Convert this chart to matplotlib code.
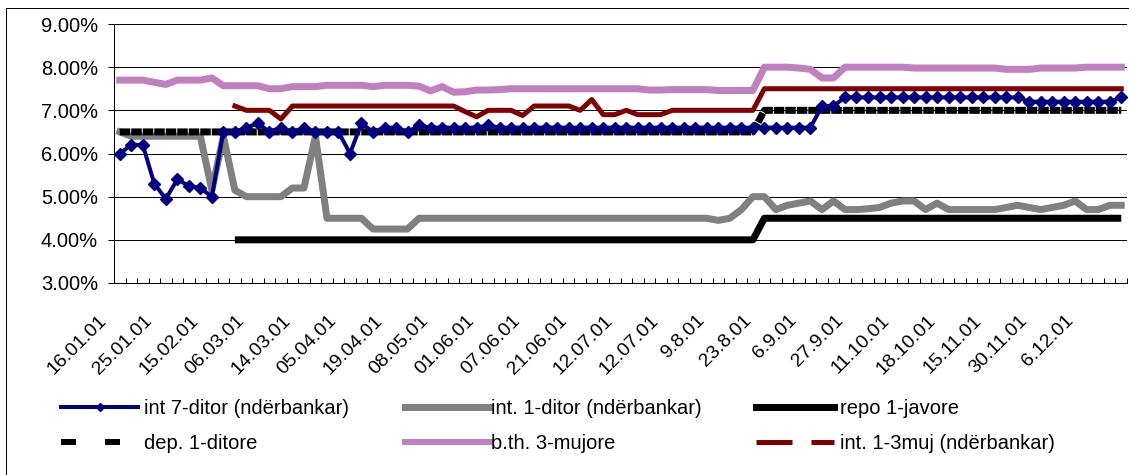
import numpy as np
import matplotlib
matplotlib.use('Agg')
import matplotlib.pyplot as plt
from matplotlib.lines import Line2D
from matplotlib.patches import Rectangle
import matplotlib.transforms as mtransforms

plt.rcParams['font.family'] = ['Liberation Sans', 'DejaVu Sans']
plt.rcParams['lines.scale_dashes'] = False

W, H = 1129, 475
PX = 72.0 / 100  # points per pixel at dpi 100
FS = 14.5

tick_labels = ['16.01.01', '25.01.01', '15.02.01', '06.03.01', '14.03.01', '05.04.01',
               '19.04.01', '08.05.01', '01.06.01', '07.06.01', '21.06.01', '12.07.01',
               '12.07.01', '9.8.01', '23.8.01', '6.9.01', '27.9.01', '11.10.01',
               '18.10.01', '15.11.01', '30.11.01', '6.12.01']
n = 88

int7 = ([6.00, 6.20, 6.20, 5.30, 4.95, 5.40, 5.25, 5.20, 5.00, 6.50,
         6.50, 6.60, 6.70, 6.50, 6.60, 6.50, 6.60, 6.50, 6.50, 6.50,
         6.00, 6.70, 6.50, 6.60, 6.60, 6.50, 6.65, 6.60, 6.60, 6.60,
         6.60, 6.60, 6.65] + [6.60] * 28 + [7.10, 7.10] + [7.30] * 16
        + [7.20] * 8 + [7.30])

int1 = ([6.50, 6.40, 6.40, 6.40, 6.40, 6.40, 6.40, 6.40, 5.15, 6.40,
         5.15, 5.00, 5.00, 5.00, 5.00, 5.20, 5.20, 6.40, 4.50, 4.50,
         4.50, 4.50, 4.25, 4.25, 4.25, 4.25] + [4.50] * 26
        + [4.45, 4.50, 4.70, 5.00, 5.00, 4.70, 4.80, 4.85, 4.90, 4.70,
           4.90, 4.70, 4.70, 4.72, 4.75, 4.85, 4.90, 4.90, 4.70, 4.85,
           4.70, 4.70, 4.70, 4.70, 4.70, 4.75, 4.80, 4.75, 4.70, 4.75,
           4.80, 4.90, 4.70, 4.70, 4.80, 4.80])

repo = [np.nan] * 10 + [4.00] * 46 + [4.50] * 32

dep = [6.50] * 56 + [7.00] * 32

bth = ([7.70, 7.70, 7.70, 7.65, 7.60, 7.70, 7.70, 7.70, 7.75, 7.57,
        7.57, 7.57, 7.57, 7.50, 7.50, 7.55, 7.55, 7.55, 7.58, 7.58,
        7.58, 7.58, 7.55, 7.58, 7.58, 7.58, 7.56, 7.45, 7.55, 7.42,
        7.43, 7.47, 7.47, 7.48] + [7.50] * 12
       + [7.47, 7.47, 7.48, 7.48, 7.48, 7.48, 7.46, 7.46, 7.46, 7.46]
       + [8.00, 8.00, 8.00, 7.98, 7.95, 7.75, 7.75, 8.00, 8.00, 8.00,
          8.00, 8.00, 8.00, 7.98, 7.98, 7.98, 7.98, 7.98, 7.98, 7.98,
          7.98, 7.95, 7.95, 7.95, 7.98, 7.98, 7.98, 7.98, 8.00, 8.00,
          8.00, 8.00])

int13 = ([np.nan] * 10
         + [7.10, 7.00, 7.00, 7.00, 6.80] + [7.10] * 15
         + [6.97, 6.85, 7.00, 7.00, 7.00, 6.88, 7.10, 7.10, 7.10, 7.10,
            7.00, 7.25, 6.90, 6.90, 7.00, 6.90, 6.90, 6.90]
         + [7.00] * 8 + [7.50] * 32)

x = np.arange(n)

fig = plt.figure(figsize=(W / 100, H / 100), dpi=100)
# chart border: only the left and top edges fall inside the image
fig.patches.append(Rectangle((6 / W, -0.1), 2, 1 - 8 / H + 0.1, transform=fig.transFigure,
                             fill=False, edgecolor='black', lw=1.0 * PX))

ax = fig.add_axes([114 / W, 1 - 283 / H, (1127 - 114) / W, (283 - 24) / H])

ax.plot(x, int1, color='#808080', lw=7 * PX, zorder=2)
ax.plot(x, repo, color='black', lw=7 * PX, solid_capstyle='butt', zorder=3)
ax.plot(x, dep, color='black', lw=7 * PX, dashes=(10.5 * PX, 1.0 * PX),
        dash_capstyle='butt', zorder=3)
ax.plot(x, bth, color='#c080c0', lw=7 * PX, zorder=3)
ax.plot(x, int13, color='#800000', lw=5 * PX, zorder=3)
ax.plot(x, int7, color='#000080', lw=4 * PX, marker='D', ms=6, mec='#000080',
        mfc='#000080', zorder=5)

ax.set_xlim(-0.5, n - 0.5)
ax.set_ylim(3, 9)
yt = np.arange(3, 10)
ax.set_yticks(yt)
ax.set_yticklabels(['%.2f%%' % v for v in yt], fontsize=FS)
ax.yaxis.grid(True, color='black', lw=1.0 * PX)
ax.set_axisbelow(True)
ax.tick_params(axis='y', direction='out', length=6 * PX, width=1 * PX, pad=10 * PX)

ax.set_xticks(x[::4])
ax.set_xticklabels(tick_labels, fontsize=14, rotation=45, ha='right', va='center',
                   rotation_mode='anchor')
ax.set_xticks(np.arange(-0.5, n, 1), minor=True)
ax.tick_params(axis='x', which='major', length=0, pad=35 * PX)
ax.tick_params(axis='x', which='minor', direction='in', length=5 * PX, width=1 * PX)
shift = mtransforms.ScaledTranslation(-16 / 100, 0, fig.dpi_scale_trans)
for lab in ax.get_xticklabels():
    lab.set_transform(lab.get_transform() + shift)

for side in ['top', 'right']:
    ax.spines[side].set_visible(False)
ax.spines['left'].set_linewidth(1 * PX)
ax.spines['bottom'].set_linewidth(1 * PX)

# legend: three columns, two rows
columns = [
    (61, 3.83, 0.30,
     [Line2D([], [], color='#000080', lw=4 * PX, marker='D', ms=4),
      Line2D([], [], color='black', lw=6 * PX, dashes=(15 * PX, 29 * PX),
             dash_capstyle='butt')],
     ['int 7-ditor (ndërbankar)', 'dep. 1-ditore']),
    (405, 4.23, 0.05,
     [Line2D([], [], color='#808080', lw=7 * PX),
      Line2D([], [], color='#c080c0', lw=6 * PX)],
     ['int. 1-ditor (ndërbankar)', 'b.th. 3-mujore']),
    (756, 3.88, 0.30,
     [Line2D([], [], color='black', lw=7 * PX),
      Line2D([], [], color='#800000', lw=5 * PX, dashes=(36 * PX, 19 * PX),
             dash_capstyle='butt')],
     ['repo 1-javore', 'int. 1-3muj (ndërbankar)']),
]
for x0, hl, pad, hs, names in columns:
    fig.legend(hs, names, loc='upper left', bbox_to_anchor=(x0 / W, 1 - 399 / H),
               frameon=False, fontsize=FS, handlelength=hl, handletextpad=pad,
               labelspacing=0.8, borderpad=0, borderaxespad=0)

fig.savefig('out.png', dpi=100)
